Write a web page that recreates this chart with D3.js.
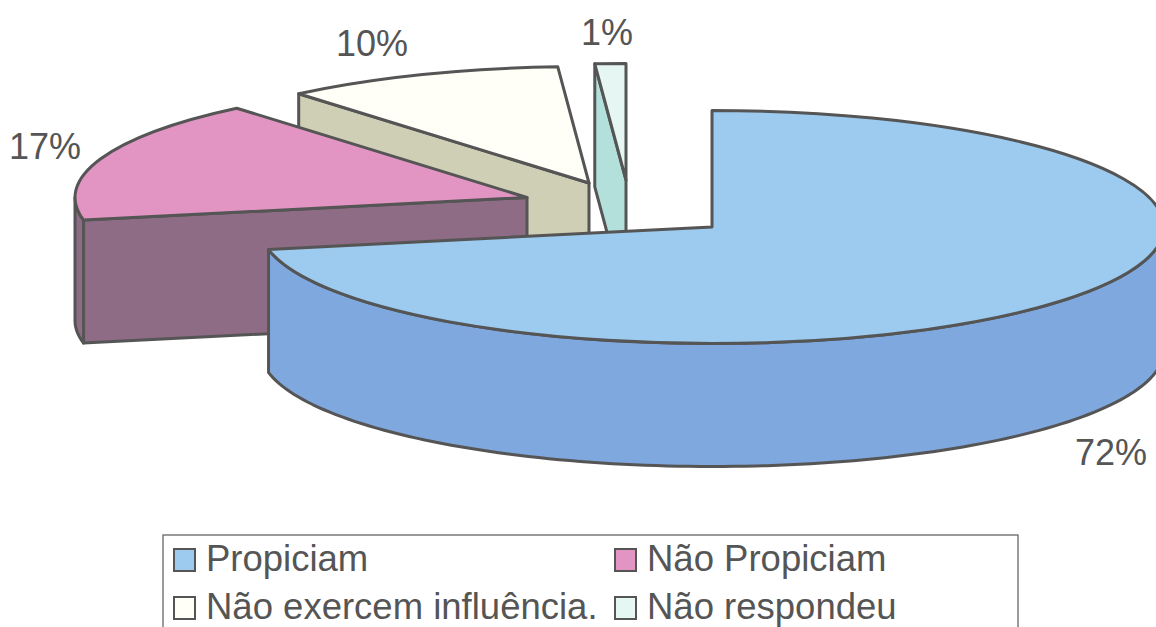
<!DOCTYPE html>
<html><head><meta charset="utf-8">
<script src="https://cdn.jsdelivr.net/npm/d3@7"></script>
<style>html,body{margin:0;padding:0;background:#fff;overflow:hidden}svg{display:block}text{font-family:"Liberation Sans",Arial,sans-serif;fill:#555}</style>
</head><body><svg id="c" width="1156" height="627"></svg>
<script>
// Data
const categories = ["Propiciam", "Não Propiciam", "Não exercem influência.", "Não respondeu"];
const values = [71.9, 17, 10, 1.1];
const percentLabels = ["72%", "17%", "10%", "1%"];

// Styles and layout
const topColors = ["#9CCBEF", "#E295C2", "#FFFFF8", "#E6F7F3"];
const wallColors = ["#7FA8DE", "#8F6C86", "#CFCFB6", "#B4E0DC"];
const centers = [[712, 227], [527, 197.5], [589, 183], [626, 180]];
const labelPos = [[1111, 465], [45, 159], [372, 56], [607, 45]];
const legendPos = [[174, 549], [615, 549], [174, 597], [615, 597]];
const rx = 452, ry = 116.5, depth = 123, ink = "#555";

const svg = d3.select("#c");
const pie = d3.pie().value(d => d).sort(null).startAngle(0).endAngle(2 * Math.PI);
const arcs = pie(values);
const arc = d3.arc().innerRadius(0).outerRadius(rx);

const px = (i, a, r = 1) => centers[i][0] + rx * r * Math.sin(a);
const py = (i, a, r = 1) => centers[i][1] - ry * r * Math.cos(a);
const line = d3.line();

// Back-to-front order
[3, 2, 1, 0].forEach(i => {
  const d = arcs[i], g = svg.append("g");
  const styled = s => s.attr("stroke", ink).attr("stroke-width", 3).attr("stroke-linejoin", "round");

  // radial face at the slice start (visible for the three exploded wedges)
  if (i > 0) {
    const a = d.startAngle;
    styled(g.append("path")).attr("fill", wallColors[i]).attr("d", line([
      [px(i, a, 0), py(i, a, 0)], [px(i, a), py(i, a)],
      [px(i, a), py(i, a) + depth], [px(i, a, 0), py(i, a, 0) + depth]
    ]) + "Z");
  }

  // outer wall: only the front half of the rim (90deg to 270deg)
  const a0 = Math.max(d.startAngle, Math.PI / 2), a1 = Math.min(d.endAngle, 3 * Math.PI / 2);
  if (a1 > a0) {
    const steps = d3.range(0, 121).map(k => a0 + (a1 - a0) * k / 120);
    const area = d3.area().x(a => px(i, a)).y0(a => py(i, a)).y1(a => py(i, a) + depth);
    styled(g.append("path")).attr("fill", wallColors[i]).attr("d", area(steps));
  }

  // top face
  styled(g.append("path"))
    .attr("transform", `translate(${centers[i][0]},${centers[i][1]}) scale(1,${ry / rx})`)
    .attr("vector-effect", "non-scaling-stroke")
    .attr("fill", topColors[i])
    .attr("d", arc(d));
});

// Percent labels
svg.selectAll("text.pct").data(percentLabels).join("text")
  .attr("class", "pct").attr("text-anchor", "middle").attr("font-size", 36)
  .attr("x", (d, i) => labelPos[i][0]).attr("y", (d, i) => labelPos[i][1]).text(d => d);

// Legend (cut by the bottom of the picture)
svg.append("rect").attr("x", 163).attr("y", 535).attr("width", 855).attr("height", 120)
  .attr("fill", "#fff").attr("stroke", "#666").attr("stroke-width", 1.3);
const leg = svg.selectAll("g.leg").data(categories).join("g").attr("class", "leg")
  .attr("transform", (d, i) => `translate(${legendPos[i][0]},${legendPos[i][1]})`);
leg.append("rect").attr("width", 21).attr("height", 22)
  .attr("fill", (d, i) => topColors[i]).attr("stroke", ink).attr("stroke-width", 2);
leg.append("text").attr("x", 32).attr("y", 22).attr("font-size", 36.5).text(d => d);
</script></body></html>
